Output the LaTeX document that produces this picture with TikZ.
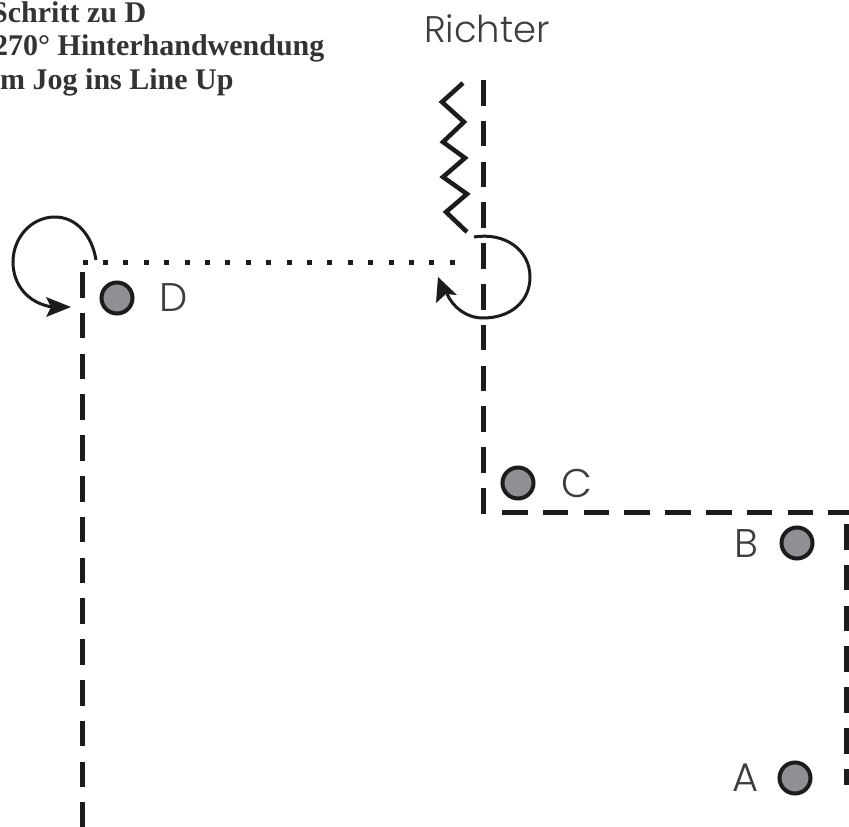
\documentclass[tikz,border=0pt]{standalone}
\usepackage{fontspec}
\setmainfont{Liberation Serif}
\newfontfamily\geo{Poppins Light}
\definecolor{ink}{HTML}{1C1C1C}
\definecolor{markfill}{HTML}{8E9095}
\tikzset{
  x=1pt,y=-1pt,
  dashline/.style={draw=ink,line width=5pt,dash pattern=on 25.5pt off 15.3pt},
  dotline/.style={draw=ink,line width=5pt,dash pattern=on 5pt off 15.4pt},
  walk/.style={draw=ink,line width=3pt},
  zig/.style={draw=ink,line width=4.5pt,line join=miter},
  head/.style={fill=ink,draw=none},
  marker/.style={circle,draw=ink,fill=markfill,line width=4pt,minimum size=31pt,inner sep=0pt},
  letter/.style={font=\geo\fontsize{40}{46}\selectfont,text=ink!85,inner sep=0pt},
  caption/.style={font=\bfseries\fontsize{30}{36}\selectfont,text=ink!90,inner sep=0pt,anchor=base west},
}
\begin{document}
\begin{tikzpicture}
\useasboundingbox (0,0) rectangle (849,827);
\fill[white] (0,0) rectangle (849,827);
% captions
\node[caption] (cap1) at (-9,22) {Schritt zu D};
\node[caption] (cap2) at (-7,55.5) {270° Hinterhandwendung};
\node[caption] (cap3) at (0,89) {m Jog ins Line Up};
\node[letter,font=\geo\fontsize{37}{44}\selectfont] (richter) at (487,29) {Richter};
% track coordinates
\coordinate (t1) at (483.5,80);
\coordinate (t2) at (483.5,514);
\coordinate (t3) at (502,512);
\coordinate (t4) at (849,512);
\coordinate (t5) at (846,524);
\coordinate (t6) at (846,785);
\coordinate (t7) at (82,272);
\coordinate (t8) at (82,827);
\coordinate (d1) at (82.5,262);
\coordinate (d2) at (455,262);
\draw[dashline] (t1) -- (t2);
\draw[dashline] (t3) -- (t4);
\draw[dashline] (t5) -- (t6);
\draw[dashline] (t7) -- (t8);
\draw[dotline] (d1) -- (d2);
% zigzag
\coordinate (z0) at (463,83);
\coordinate (z1) at (442,102);
\coordinate (z2) at (464,122);
\coordinate (z3) at (443,142);
\coordinate (z4) at (465,158);
\coordinate (z5) at (443,177);
\coordinate (z6) at (467,194);
\coordinate (z7) at (446,212);
\coordinate (z8) at (467,232);
\draw[zig] (z0) -- (z1) -- (z2) -- (z3) -- (z4) -- (z5) -- (z6) -- (z7) -- (z8);
% turn at D
\coordinate (ta) at (96,260);
\coordinate (tb) at (55,217);
\coordinate (tc) at (13,262);
\coordinate (td) at (52,307);
\draw[walk] (ta) .. controls (92,235) and (76,217) .. (tb)
  .. controls (31,217) and (13,238) .. (tc)
  .. controls (13,285) and (28,303) .. (td);
\fill[head] (71,307) -- (46,297) -- (51,307) -- (46,317) -- cycle;
% turn at Richter
\coordinate (ra) at (474,237);
\coordinate (rb) at (530,277);
\coordinate (rc) at (483,318);
\coordinate (rd) at (447,294);
\draw[walk] (ra) .. controls (505,232) and (530,250) .. (rb)
  .. controls (530,302) and (510,318) .. (rc)
  .. controls (466,318) and (453,307) .. (rd);
\fill[head] (438,277) -- (436,303) -- (446,294) -- (457,295) -- cycle;
% markers
\node[marker] (D) at (117,298) {};
\node[marker] (C) at (518,483) {};
\node[marker] (B) at (797,543) {};
\node[marker] (A) at (795,778) {};
\node[letter] (ld) at (174,298) {D};
\node[letter] (lc) at (577,483) {C};
\node[letter] (lb) at (746,544) {B};
\node[letter] (la) at (746,778) {A};
\end{tikzpicture}
\end{document}
